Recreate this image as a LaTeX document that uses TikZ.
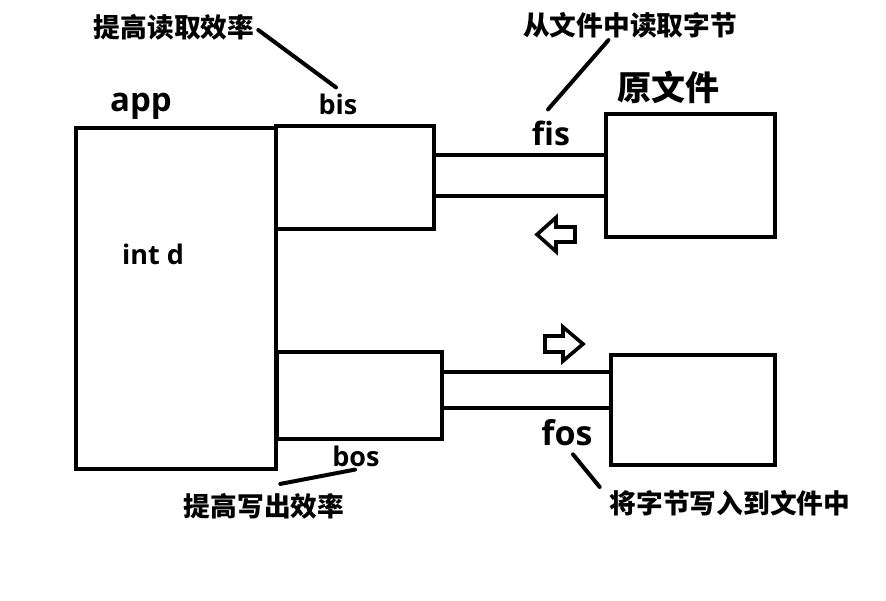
\documentclass[tikz,border=0pt]{standalone}
\usepackage{fontspec}
\setmainfont{Open Sans}
\newfontfamily\cjk{Noto Sans CJK SC}
\usetikzlibrary{calc}
\begin{document}
\begin{tikzpicture}[x=1pt,y=-1pt,
  box/.style={draw, line width=4.5pt, rectangle, inner sep=0pt, outer sep=0pt},
  pipe/.style={line width=4.5pt},
  leader/.style={line width=4pt, line cap=round},
  hollow/.style={line width=3.6pt, line join=miter},
  zh/.style={font=\cjk\bfseries\fontsize{26.7}{30}\selectfont, inner sep=1pt},
  zhbig/.style={font=\cjk\bfseries\fontsize{34}{38}\selectfont, inner sep=1pt},
  en/.style={inner sep=1pt, font=\bfseries\fontsize{#1}{#1}\selectfont}]
\useasboundingbox[fill=white] (0,0) rectangle (886,600);

% program box and the four stream boxes
\node[box, minimum width=200pt, minimum height=341pt] (app) at (176,298.5) {};
\node[box, minimum width=158pt, minimum height=103pt] (bis) at (355,177.5) {};
\node[box, minimum width=169pt, minimum height=123pt] (src) at (690.5,175.5) {};
\node[box, minimum width=165pt, minimum height=87pt] (bos) at (359.5,395.5) {};
\node[box, minimum width=164pt, minimum height=110pt] (dst) at (693,410) {};

% pipes between buffered streams and files
\coordinate (rt) at ([yshift=22.5pt]bis.east);
\coordinate (rb) at ([yshift=-18.5pt]bis.east);
\draw[pipe] (rt) -- (rt -| src.west);
\draw[pipe] (rb) -- (rb -| src.west);
\coordinate (wt) at ([yshift=23.5pt]bos.east);
\coordinate (wb) at ([yshift=-12.5pt]bos.east);
\draw[pipe] (wt) -- (wt -| dst.west);
\draw[pipe] (wb) -- (wb -| dst.west);

% direction arrows
\draw[hollow] (537,234.5) -- (556,217.5) -- (556,227) -- (575,227) -- (575,242) -- (556,242) -- (556,251.5) -- cycle;
\draw[hollow] (545,336) -- (563,336) -- (563,327) -- (583,344) -- (563,361) -- (563,352) -- (545,352) -- cycle;

% labels
\node[en=33] (applbl) at (141,106) {app};
\node[en=27] (intlbl) at (153,254) {int d};
\node[en=27] (bislbl) at (338,104) {bis};
\node[en=32] (fislbl) at (551,133) {fis};
\node[en=27] (boslbl) at (356,456) {bos};
\node[en=34] (foslbl) at (567,433) {fos};
\node[zhbig] (srclbl) at (668,87) {原文件};
\node[zh] (readlbl) at (174,27) {提高读取效率};
\node[zh] (fetchlbl) at (630,25) {从文件中读取字节};
\node[zh] (writelbl) at (264,506) {提高写出效率};
\node[zh] (storelbl) at (730,503) {将字节写入到文件中};

% leader lines
\draw[leader] ($(readlbl.east)+(3,3)$) -- ($(bislbl.north)+(-2,-5)$);
\draw[leader] ($(fetchlbl.south west)!0.4!(fetchlbl.south east)+(0,1)$) -- ($(fislbl.north)+(-3,-10)$);
\draw[leader] ($(writelbl.north west)!0.6!(writelbl.north east)+(0,-8)$) -- ($(boslbl.south)+(-1,2)$);
\draw[leader] ($(foslbl.south)+(6,7)$) -- ($(storelbl.north west)+(-9,-2)$);
\end{tikzpicture}
\end{document}
